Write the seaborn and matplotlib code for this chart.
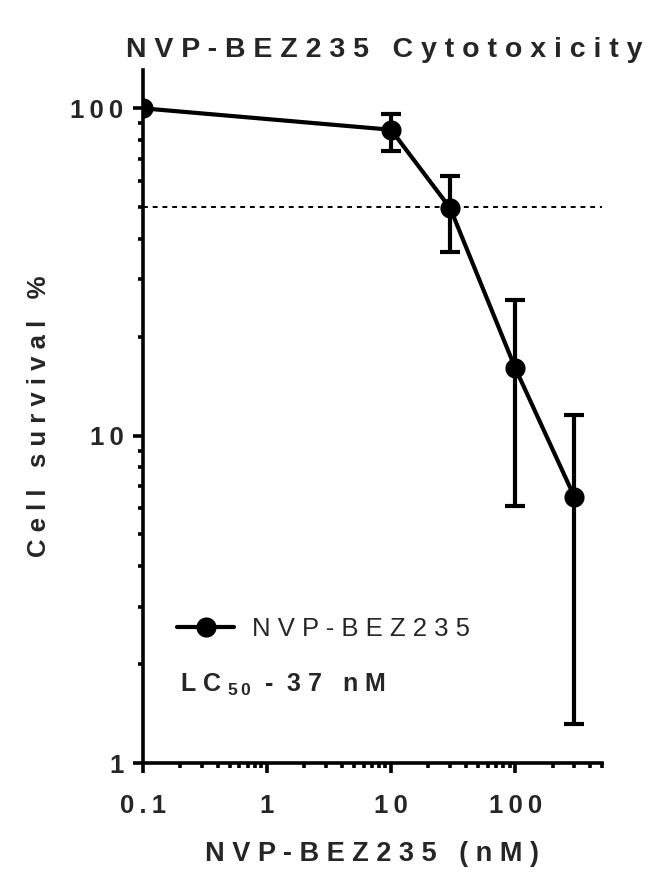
import matplotlib
matplotlib.use("Agg")
import matplotlib.pyplot as plt
import seaborn as sns
import numpy as np
import pandas as pd
from matplotlib.ticker import LogLocator, FixedLocator, NullFormatter, FixedFormatter

# ---- data ----
conc_nM = [0.1, 10, 30, 100, 300]
survival = [100, 86, 49.5, 16.1, 6.5]
err_upper = [100, 96, 62, 25.9, 11.6]
err_lower = [100, 74, 36.3, 6.1, 1.32]
series_name = "NVP-BEZ235"
x_ticks = [0.1, 1, 10, 100]
x_tick_labels = ["0.1", "1", "10", "100"]
y_ticks = [1, 10, 100]
y_tick_labels = ["1", "10", "100"]
lc50_line = 50
title = "NVP-BEZ235 Cytotoxicity"
xlabel = "NVP-BEZ235 (nM)"
ylabel = "Cell survival %"


def spaced(s, sep=" "):
    return sep.join(s)


sns.set_theme(style="ticks")
plt.rcParams["font.family"] = ["Liberation Sans", "DejaVu Sans"]
plt.rcParams["mathtext.fontset"] = "custom"
plt.rcParams["mathtext.rm"] = "Liberation Sans:bold"
plt.rcParams["mathtext.bf"] = "Liberation Sans:bold"

fig = plt.figure(figsize=(6.55, 8.74), dpi=100)
ax = fig.add_axes([0.218, 0.127, 0.701, 0.793])

df = pd.DataFrame({"conc": conc_nM, "surv": survival})
y = np.array(survival)
yerr = np.vstack([y - np.array(err_lower), np.array(err_upper) - y])
ax.errorbar(conc_nM, survival, yerr=yerr, fmt="none", ecolor="black",
            elinewidth=3.0, capsize=7, capthick=3.0, zorder=2)
sns.lineplot(data=df, x="conc", y="surv", ax=ax, color="black", lw=3.0,
             marker="o", markersize=14.5, markeredgewidth=0, label=spaced(series_name),
             zorder=3)

ax.axhline(lc50_line, color="black", lw=1.4, ls=(0, (2.5, 2.5)), zorder=1)

ax.set_xscale("log")
ax.set_yscale("log")
ax.set_xlim(0.1, 500)
ax.set_ylim(1, 131)

tsep = "\u2009"
ax.xaxis.set_major_locator(FixedLocator(x_ticks))
ax.xaxis.set_major_formatter(FixedFormatter([spaced(t, tsep) for t in x_tick_labels]))
ax.xaxis.set_minor_locator(LogLocator(base=10, subs=np.arange(2, 10), numticks=20))
ax.xaxis.set_minor_formatter(NullFormatter())
ax.yaxis.set_major_locator(FixedLocator(y_ticks))
ax.yaxis.set_major_formatter(FixedFormatter([spaced(t, tsep) for t in y_tick_labels]))
ax.yaxis.set_minor_locator(LogLocator(base=10, subs=np.arange(2, 10), numticks=20))
ax.yaxis.set_minor_formatter(NullFormatter())

for side in ["top", "right"]:
    ax.spines[side].set_visible(False)
for side in ["left", "bottom"]:
    ax.spines[side].set_linewidth(2.6)
    ax.spines[side].set_color("black")

ax.tick_params(which="major", length=7, width=2.6, color="black", labelsize=18.5,
               pad=6)
ax.tick_params(which="minor", length=3.8, width=2.6, color="black")
for lab in ax.get_xticklabels() + ax.get_yticklabels():
    lab.set_fontweight("bold")
ax.tick_params(axis="x", pad=15)
ax.tick_params(axis="y", pad=7)

ax.set_title(spaced(title), fontsize=20.5, fontweight="bold",
             x=0.525, pad=9)
ax.set_xlabel(spaced(xlabel), fontsize=19.5, fontweight="bold", labelpad=17)
ax.set_ylabel(spaced(ylabel), fontsize=18.5, fontweight="bold", labelpad=14)

leg = ax.legend(loc="lower left", bbox_to_anchor=(0.025, 0.142), frameon=False,
                fontsize=18.5, handlelength=2.2, handletextpad=0.7)

ax.text(0.08, 0.113, r"L C $_{\mathrm{5\,0}}$  -  3 7   n M", transform=ax.transAxes,
        fontsize=18, fontweight="bold", va="center", ha="left")

fig.savefig("out.png", dpi=100)
